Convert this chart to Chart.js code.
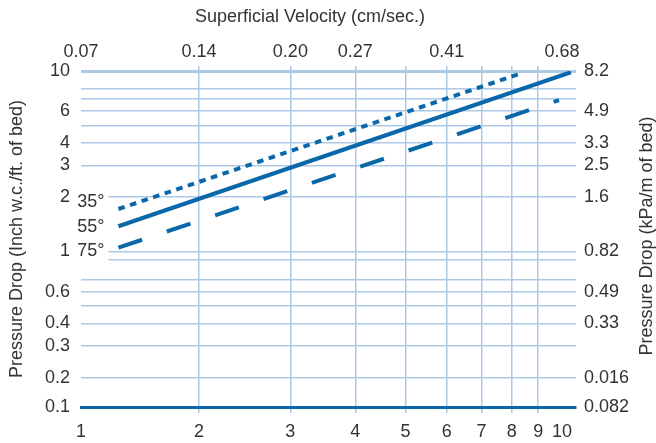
<!DOCTYPE html>
<html>
<head>
<meta charset="utf-8">
<script src="https://cdn.jsdelivr.net/npm/chart.js@4.4.1/dist/chart.umd.min.js"></script>
<style>
  html, body { margin: 0; padding: 0; background: #ffffff; }
  canvas { display: block; }
</style>
</head>
<body>
<canvas id="chart" width="656" height="443"></canvas>
<script>
// ---------------- data ----------------
const seriesLabels = ['35°', '55°', '75°'];
const flow35 = [1.40, 8.25];
const drop35 = [1.72, 9.60];
const flow55 = [1.40, 10.40];
const drop55 = [1.38, 9.83];
const flow75 = [1.40, 9.87];
const drop75 = [1.05, 6.90];

// bottom axis ticks (the "1" tick sits on the broken left edge of the axis)
const xTickValues   = [1, 2, 3, 4, 5, 6, 7, 8, 9, 10];
const xBottomLabels = ['1', '2', '3', '4', '5', '6', '7', '8', '9', '10'];
const xTopLabels    = ['0.07', '0.14', '0.20', '0.27', '', '0.41', '', '', '', '0.68'];

// vertical axis ticks (the "0.1" tick sits on the broken bottom edge of the axis)
const yTickValues  = [0.1, 0.2, 0.3, 0.4, 0.5, 0.6, 0.7, 0.9, 1, 2, 3, 4, 5, 6, 7, 8, 10];
const yLeftLabels  = ['0.1', '0.2', '0.3', '0.4', '', '0.6', '', '', '1', '2', '3', '4', '', '6', '', '', '10'];
const yRightLabels = ['0.082', '0.016', '', '0.33', '', '0.49', '', '', '0.82', '1.6', '2.5', '3.3', '', '4.9', '', '', '8.2'];

// axis extents (log axes, cut at the lower ends like the original)
const X_MIN = 1.186, X_MAX = 10.64;
const Y_MIN = 0.1376, Y_MAX = 10;

// ---------------- styles ----------------
const FONT = '"Liberation Sans", Arial, Helvetica, sans-serif';
const TEXT = '#333333';
const BLUE = '#0a68aa';
const GRID = '#aec8e8';
const labelShift = [-7, 1, 3];

Chart.defaults.font.family = FONT;
Chart.defaults.font.size = 18;
Chart.defaults.color = TEXT;

function toPoints(xs, ys) { return xs.map((x, i) => ({ x: x, y: ys[i] })); }

function setTicks(values) {
  return function (scale) {
    scale.ticks = values.map(v => ({ value: Math.max(v, scale.min) }));
  };
}

const annotations = {
  id: 'annotations',
  afterDatasetsDraw(chart) {
    const ctx = chart.ctx;
    ctx.save();
    ctx.font = '18px ' + FONT;
    ctx.textBaseline = 'middle';
    chart.data.datasets.forEach((ds, i) => {
      const p = chart.getDatasetMeta(i).data[0];
      const x = p.x - 14, y = p.y + labelShift[i];
      ctx.fillStyle = '#ffffff';
      ctx.fillRect(x - 28, y - 11, 32, 22);
      ctx.fillStyle = TEXT;
      ctx.textAlign = 'right';
      ctx.fillText(ds.label, x, y);
    });
    ctx.fillStyle = TEXT;
    ctx.textAlign = 'center';
    ctx.fillText('Superficial Velocity (cm/sec.)', 310, 17);
    ctx.translate(647, 236);
    ctx.rotate(-Math.PI / 2);
    ctx.fillText('Pressure Drop (kPa/m of bed)', 0, 0);
    ctx.restore();
  }
};

const lineStyle = { borderColor: BLUE, borderWidth: 4.2, pointRadius: 0, pointHoverRadius: 0,
                    tension: 0, fill: false, borderCapStyle: 'butt' };

new Chart(document.getElementById('chart'), {
  type: 'line',
  data: {
    datasets: [
      Object.assign({ label: seriesLabels[0], data: toPoints(flow35, drop35), borderDash: [6.6, 5.6] }, lineStyle, { borderWidth: 4 }),
      Object.assign({ label: seriesLabels[1], data: toPoints(flow55, drop55) }, lineStyle),
      Object.assign({ label: seriesLabels[2], data: toPoints(flow75, drop75), borderDash: [25, 26] }, lineStyle, { borderWidth: 4 })
    ]
  },
  options: {
    responsive: false,
    animation: false,
    layout: { padding: 0 },
    plugins: { legend: { display: false }, tooltip: { enabled: false } },
    scales: {
      x: {
        type: 'logarithmic', position: 'bottom', min: X_MIN, max: X_MAX,
        afterBuildTicks: setTicks(xTickValues),
        afterFit(s) { s.height = 36; },
        ticks: { autoSkip: false, maxRotation: 0, padding: 8,
                 callback: (v, i) => xBottomLabels[i] },
        grid: {
          color: c => (c.index === 0 || c.index === xTickValues.length - 1) ? 'rgba(0,0,0,0)' : GRID,
          lineWidth: 1.5, drawTicks: true, tickLength: 6
        },
        border: { display: true, color: BLUE, width: 3 }
      },
      x2: {
        type: 'logarithmic', position: 'top', min: X_MIN, max: X_MAX,
        afterBuildTicks: setTicks(xTickValues),
        afterFit(s) { s.height = 71; },
        ticks: { autoSkip: false, maxRotation: 0, padding: 3,
                 callback: (v, i) => xTopLabels[i] },
        grid: {
          drawOnChartArea: false, drawTicks: true, tickLength: 5, lineWidth: 1.5,
          color: c => (c.index === 0 || c.index === xTickValues.length - 1) ? 'rgba(0,0,0,0)' : GRID
        },
        border: { display: false }
      },
      y: {
        type: 'logarithmic', position: 'left', min: Y_MIN, max: Y_MAX,
        afterBuildTicks: setTicks(yTickValues),
        afterFit(s) { s.width = 81; },
        ticks: { autoSkip: false, padding: 11, callback: (v, i) => yLeftLabels[i] },
        grid: {
          drawTicks: false,
          color: c => c.index === 0 ? 'rgba(0,0,0,0)' : GRID,
          lineWidth: c => (c.tick && c.tick.value === 10) ? 3 : 1.5
        },
        border: { display: false },
        title: { display: true, text: 'Pressure Drop (Inch w.c./ft. of bed)',
                 padding: { top: 6, bottom: 0 }, font: { size: 18 }, color: TEXT }
      },
      y2: {
        type: 'logarithmic', position: 'right', min: Y_MIN, max: Y_MAX,
        afterBuildTicks: setTicks(yTickValues),
        afterFit(s) { s.width = 80; },
        ticks: { autoSkip: false, padding: 8, callback: (v, i) => yRightLabels[i] },
        grid: { drawOnChartArea: false, drawTicks: false },
        border: { display: false }
      }
    }
  },
  plugins: [annotations]
});
</script>
</body>
</html>
